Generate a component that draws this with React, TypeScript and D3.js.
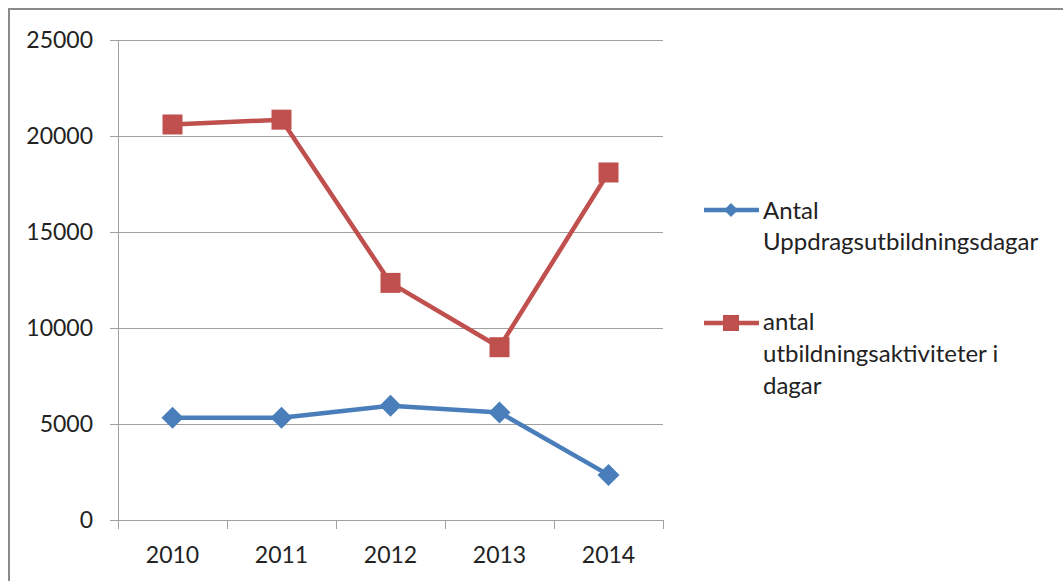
import * as d3 from 'd3';

// values
const years = ['2010', '2011', '2012', '2013', '2014'];
const uppdrag = [5330, 5330, 5950, 5600, 2350];
const aktiviteter = [20600, 20850, 12350, 9000, 18100];
const yTicks = [0, 5000, 10000, 15000, 20000, 25000];

const legendBlue = ['Antal', 'Uppdragsutbildningsdagar'];
const legendRed = ['antal', 'utbildningsaktiviteter i', 'dagar'];

const BLUE = '#4a7ebb';
const RED = '#c0504d';
const GRID = '#a0a0a0';
const FONT = 'Lato, "Open Sans", sans-serif';

// square rotated 45°, half-diagonal r
const rhombus = (r: number) => `M0,${-r}L${r},0L0,${r}L${-r},0Z`;

export default function App() {
  const W = 1063;
  const H = 581;
  const plot = { left: 118, right: 663, top: 40, bottom: 520 };

  const x = d3.scaleBand<string>().domain(years).range([plot.left, plot.right]);
  const y = d3.scaleLinear().domain([0, 25000]).range([plot.bottom, plot.top]);
  const cx = (d: string) => x(d)! + x.bandwidth() / 2;

  const line = d3.line<number>()
    .x((_, i) => cx(years[i]))
    .y(d => y(d));

  const boundaries = [...years.map(d => x(d)!), plot.right];

  return (
    <svg width={W} height={H} style={{ position: 'absolute', left: 0, top: 0, background: '#fff' }}
      fontFamily={FONT}>
      <rect x={9} y={9} width={W + 20} height={H + 20} fill="#fff" stroke="#8a8a8a" strokeWidth={2} />

      {/* gridlines + y axis ticks */}
      {yTicks.map(t => (
        <g key={t}>
          <line x1={plot.left - 8} x2={plot.right} y1={y(t) + 0.5} y2={y(t) + 0.5}
            stroke={GRID} strokeWidth={1} />
          <text x={93} y={y(t)} dy="0.35em" textAnchor="end" fontSize={23} fill="#222">{t}</text>
        </g>
      ))}
      <line x1={plot.left + 0.5} x2={plot.left + 0.5} y1={plot.top} y2={plot.bottom}
        stroke={GRID} strokeWidth={1} />

      {/* x axis ticks */}
      {boundaries.map((b, i) => (
        <line key={i} x1={b + 0.5} x2={b + 0.5} y1={plot.bottom} y2={plot.bottom + 9}
          stroke={GRID} strokeWidth={1} />
      ))}
      {years.map(d => (
        <text key={d} x={cx(d)} y={555} dy="0.35em" textAnchor="middle" fontSize={23} fill="#222">{d}</text>
      ))}

      {/* series */}
      <path d={line(uppdrag)!} fill="none" stroke={BLUE} strokeWidth={4.5} strokeLinejoin="round" />
      {uppdrag.map((v, i) => (
        <path key={i} d={rhombus(11)} transform={`translate(${cx(years[i])},${y(v)})`} fill={BLUE} />
      ))}

      <path d={line(aktiviteter)!} fill="none" stroke={RED} strokeWidth={4.5} strokeLinejoin="round" />
      {aktiviteter.map((v, i) => (
        <rect key={i} x={cx(years[i]) - 10} y={y(v) - 10} width={20} height={20} fill={RED} />
      ))}

      {/* legend */}
      <g>
        <line x1={704} x2={759} y1={210} y2={210} stroke={BLUE} strokeWidth={4.5} />
        <path d={rhombus(7)} transform="translate(731,210)" fill={BLUE} />
        {legendBlue.map((s, i) => (
          <text key={s} x={763} y={211 + i * 31} dy="0.35em" fontSize={24} fill="#222">{s}</text>
        ))}

        <line x1={704} x2={759} y1={323} y2={323} stroke={RED} strokeWidth={4.5} />
        <rect x={723} y={315} width={16} height={16} fill={RED} />
        {legendRed.map((s, i) => (
          <text key={s} x={763} y={322 + i * 32} dy="0.35em" fontSize={24} fill="#222">{s}</text>
        ))}
      </g>
    </svg>
  );
}
